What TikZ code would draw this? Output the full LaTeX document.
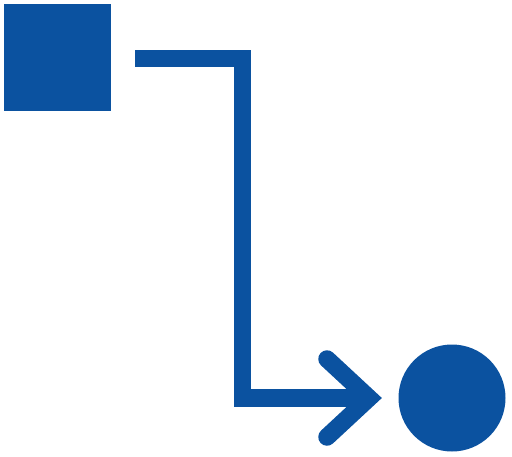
\documentclass[tikz,border=0pt]{standalone}
\definecolor{cblue}{RGB}{11,82,160}
\begin{document}
\begin{tikzpicture}[x=1pt,y=-1pt,
  shapebox/.style={fill=cblue, draw=none, inner sep=0pt, outer sep=0pt, minimum size=107pt},
  conn/.style={draw=cblue, line width=17.5pt, line join=miter, line cap=butt},
  chev/.style={draw=cblue, line width=17.5pt, line join=miter, line cap=round}]
\useasboundingbox (0,0) rectangle (512,456);
\node[shapebox, rectangle] (sq) at (57.5,57.5) {};
\node[shapebox, circle] (ci) at (452,398) {};
\coordinate (start) at ([xshift=24pt,yshift=-1pt]sq.east);
\coordinate (tip) at ([xshift=-83pt]ci.center);
\coordinate (bend) at (242.5,398);
\draw[conn] (start) -| (bend) -- (tip);
\draw[chev] ([shift={(-42,-39)}]tip) -- (tip) -- ([shift={(-42,39)}]tip);
\end{tikzpicture}
\end{document}
